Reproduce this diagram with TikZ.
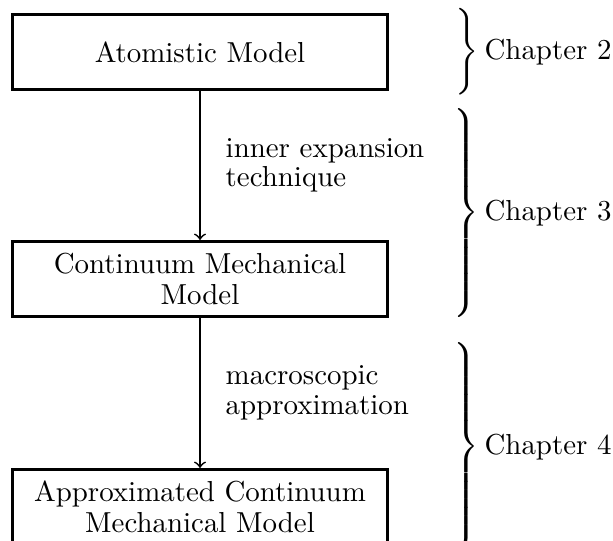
\documentclass[tikz,border=0pt]{standalone}
\usepackage{tikz}
\newcommand{\chbrace}[1]{$\delimitershortfall=0pt\delimiterfactor=1000\left.\vcenter{\hrule height #1 width 0pt}\right\}$}
\tikzset{
  modelbox/.style={draw, line width=1pt, minimum width=129.8pt, minimum height=26pt, inner sep=0pt, align=center, font=\fontsize{10}{10.7}\selectfont},
  flowarrow/.style={->, line width=0.6pt},
  steplabel/.style={anchor=west, inner sep=0pt, align=left, font=\fontsize{10}{10.2}\selectfont},
  bracenode/.style={anchor=west, inner sep=0pt},
  chapterlabel/.style={anchor=west, inner sep=0pt}
}
\begin{document}
\begin{tikzpicture}[x=0.346pt, y=-0.346pt]
\useasboundingbox (0,0) rectangle (613,541);
\clip (0,0) rectangle (613,541);
\node[modelbox] (b1) at (200,52) {Atomistic Model};
\node[modelbox] (b2) at (200,279) {Continuum Mechanical\\Model};
\node[modelbox] (b3) at (200,507) {Approximated Continuum\\Mechanical Model};
\draw[flowarrow] (b1) -- (b2) node[midway, steplabel, xshift=8.6pt] {inner expansion\\technique};
\draw[flowarrow] (b2) -- (b3) node[midway, steplabel, xshift=8.6pt] {macroscopic\\approximation};
\node[bracenode] (br2) at (455,52) {$\Bigg\}$};
\node[chapterlabel] (c2) at (484,52) {Chapter 2};
\node[bracenode] (br3) at (449,213) {\chbrace{70pt}};
\node[chapterlabel] (c3) at (484,213) {Chapter 3};
\node[bracenode] (br4) at (449,447) {\chbrace{70pt}};
\node[chapterlabel] (c4) at (484,447) {Chapter 4};
\end{tikzpicture}
\end{document}
